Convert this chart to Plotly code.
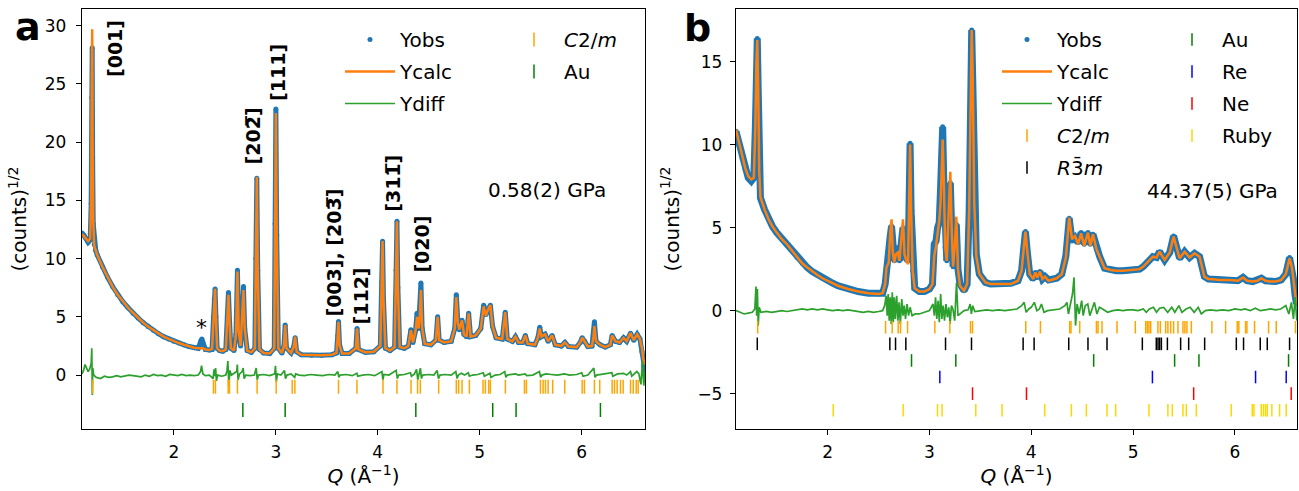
import plotly.graph_objects as go

# ---------------- Panel a data (0.58(2) GPa) ----------------
q_a = [1.100, 1.120, 1.140, 1.160, 1.180, 1.190, 1.196, 1.200, 1.204, 1.210, 1.220, 1.235, 1.250,
       1.300, 1.350, 1.400, 1.450, 1.500, 1.550, 1.600, 1.650, 1.700, 1.750, 1.800, 1.850, 1.900,
       1.950, 2.000, 2.050, 2.100, 2.150, 2.200, 2.240, 2.265, 2.275, 2.285, 2.310, 2.350, 2.375,
       2.390, 2.397, 2.405, 2.413, 2.425, 2.450, 2.480, 2.510, 2.525, 2.536, 2.547, 2.560, 2.590,
       2.610, 2.624, 2.636, 2.655, 2.672, 2.683, 2.695, 2.720, 2.760, 2.795, 2.805, 2.814, 2.823,
       2.840, 2.880, 2.940, 2.985, 2.993, 3.001, 3.009, 3.025, 3.060, 3.080, 3.092, 3.105, 3.150,
       3.175, 3.190, 3.205, 3.250, 3.350, 3.450, 3.550, 3.595, 3.608, 3.615, 3.625, 3.650, 3.720,
       3.785, 3.797, 3.810, 3.880, 3.960, 4.025, 4.040, 4.047, 4.056, 4.075, 4.120, 4.165, 4.180,
       4.188, 4.197, 4.215, 4.260, 4.300, 4.325, 4.345, 4.370, 4.385, 4.400, 4.412, 4.423, 4.435,
       4.460, 4.520, 4.570, 4.587, 4.602, 4.650, 4.720, 4.755, 4.770, 4.785, 4.800, 4.826, 4.845,
       4.870, 4.891, 4.910, 4.960, 5.010, 5.038, 5.060, 5.080, 5.104, 5.125, 5.160, 5.220, 5.250,
       5.270, 5.320, 5.350, 5.380, 5.420, 5.447, 5.470, 5.540, 5.570, 5.588, 5.605, 5.640, 5.670,
       5.709, 5.740, 5.800, 5.835, 5.870, 5.950, 5.985, 6.004, 6.030, 6.060, 6.100, 6.115, 6.124,
       6.140, 6.180, 6.230, 6.280, 6.298, 6.330, 6.370, 6.410, 6.440, 6.478, 6.510, 6.543, 6.570,
       6.590, 6.605, 6.620]
yobs_a = [12.2, 12.0, 11.7, 11.4, 11.6, 14.7, 23.8, 28.1, 18.7, 13.0, 11.2, 10.7, 10.3,
          9.3, 8.4, 7.6, 6.9, 6.3, 5.8, 5.3, 4.9, 4.5, 4.15, 3.85, 3.55, 3.3,
          3.1, 2.9, 2.75, 2.6, 2.45, 2.35, 2.3, 2.9, 3.1, 2.8, 2.2, 2.15, 2.2,
          5.0, 6.5, 7.4, 5.0, 2.3, 2.1, 2.05, 2.2, 5.0, 7.1, 4.5, 2.3, 2.1,
          3.5, 9.0, 3.8, 2.5, 5.5, 7.6, 4.0, 2.1, 1.95, 2.3, 10.0, 16.9, 9.0,
          2.2, 1.9, 1.85, 2.3, 13.0, 22.85, 12.0, 2.3, 1.9, 2.5, 4.3, 2.3, 1.9,
          2.4, 3.2, 2.0, 1.75, 1.7, 1.7, 1.75, 1.9, 3.4, 4.6, 2.6, 1.85, 1.85,
          2.3, 4.0, 2.2, 1.95, 2.0, 2.5, 8.0, 11.5, 6.5, 2.3, 2.1, 2.4, 9.0,
          13.2, 7.5, 2.4, 2.3, 2.5, 3.9, 2.8, 3.8, 5.3, 4.0, 5.5, 7.9, 4.0,
          2.7, 2.6, 3.0, 5.0, 3.0, 2.8, 2.9, 4.0, 6.9, 4.6, 3.9, 4.7, 3.5,
          3.3, 5.3, 3.3, 3.4, 4.0, 6.0, 5.2, 5.7, 6.0, 4.2, 3.2, 3.1, 5.4,
          3.1, 2.9, 3.3, 2.8, 2.8, 3.4, 2.7, 2.6, 3.2, 4.1, 3.3, 3.5, 2.9,
          3.4, 2.6, 2.5, 2.8, 2.45, 2.4, 2.8, 3.2, 2.9, 2.45, 2.5, 3.5, 4.57,
          2.9, 2.6, 2.4, 2.6, 3.4, 2.9, 2.8, 3.2, 2.9, 3.6, 3.0, 3.5, 3.1,
          2.0, 0.8, 0.4]
ycalc_a = [12.1, 11.9, 11.7, 11.5, 11.7, 15.0, 25.0, 29.7, 20.0, 13.2, 11.1, 10.7, 10.3,
           9.3, 8.4, 7.6, 6.9, 6.3, 5.8, 5.35, 4.9, 4.5, 4.15, 3.85, 3.55, 3.3,
           3.1, 2.9, 2.75, 2.6, 2.45, 2.35, 2.3, 2.3, 2.3, 2.3, 2.2, 2.15, 2.25,
           5.2, 6.8, 7.4, 5.0, 2.3, 2.1, 2.05, 2.2, 4.8, 6.9, 4.5, 2.3, 2.1,
           3.5, 8.9, 3.8, 2.5, 5.5, 7.3, 4.0, 2.1, 1.95, 2.3, 10.3, 17.0, 9.0,
           2.2, 1.9, 1.85, 2.3, 13.5, 22.5, 12.0, 2.3, 1.9, 2.5, 4.3, 2.3, 1.9,
           2.4, 3.3, 2.0, 1.75, 1.7, 1.7, 1.75, 1.9, 3.5, 4.57, 2.6, 1.85, 1.85,
           2.3, 4.0, 2.2, 1.95, 2.0, 2.5, 8.0, 11.5, 6.5, 2.3, 2.1, 2.4, 9.5,
           13.2, 7.5, 2.4, 2.3, 2.5, 3.86, 2.8, 3.8, 5.0, 4.0, 5.0, 7.3, 4.0,
           2.7, 2.6, 3.0, 5.0, 3.0, 2.8, 2.9, 4.0, 6.7, 4.5, 3.9, 4.7, 3.5,
           3.3, 5.3, 3.3, 3.4, 4.0, 5.9, 5.1, 5.6, 6.0, 4.2, 3.2, 3.1, 5.4,
           3.1, 2.9, 3.3, 2.8, 2.8, 3.4, 2.7, 2.6, 3.2, 4.0, 3.3, 3.5, 2.9,
           3.4, 2.6, 2.5, 2.8, 2.45, 2.4, 2.8, 3.2, 2.9, 2.45, 2.5, 3.3, 4.2,
           2.9, 2.6, 2.4, 2.6, 3.4, 2.9, 2.8, 3.2, 2.9, 3.6, 3.0, 3.5, 3.1,
           2.3, 1.3, 0.9]
qd_a = [1.100, 1.115, 1.130, 1.145, 1.160, 1.175, 1.190, 1.196, 1.201, 1.206, 1.215, 1.240,
        1.280, 1.320, 1.360, 1.400, 1.440, 1.480, 1.520, 1.560, 1.600, 1.640, 1.680, 1.720,
        1.760, 1.800, 1.840, 1.880, 1.920, 1.960, 2.000, 2.040, 2.080, 2.120, 2.160, 2.200,
        2.240, 2.262, 2.272, 2.285, 2.310, 2.350, 2.385, 2.395, 2.403, 2.410, 2.418, 2.430,
        2.470, 2.510, 2.522, 2.530, 2.540, 2.550, 2.565, 2.600, 2.617, 2.623, 2.630, 2.645,
        2.670, 2.680, 2.690, 2.705, 2.750, 2.790, 2.808, 2.818, 2.830, 2.880, 2.940, 2.990,
        2.997, 3.005, 3.015, 3.050, 3.085, 3.095, 3.110, 3.150, 3.185, 3.195, 3.230, 3.280,
        3.340, 3.400, 3.460, 3.520, 3.580, 3.608, 3.618, 3.630, 3.690, 3.750, 3.795, 3.803,
        3.850, 3.910, 3.970, 4.040, 4.050, 4.060, 4.110, 4.180, 4.192, 4.205, 4.260, 4.320,
        4.330, 4.360, 4.380, 4.392, 4.405, 4.418, 4.428, 4.440, 4.500, 4.550, 4.582, 4.595,
        4.610, 4.660, 4.720, 4.765, 4.778, 4.790, 4.820, 4.850, 4.888, 4.898, 4.930, 4.980,
        5.035, 5.045, 5.100, 5.110, 5.150, 5.200, 5.245, 5.256, 5.270, 5.320, 5.350, 5.380,
        5.445, 5.460, 5.520, 5.585, 5.597, 5.610, 5.650, 5.700, 5.760, 5.830, 5.880, 5.950,
        6.000, 6.012, 6.060, 6.118, 6.130, 6.145, 6.200, 6.295, 6.305, 6.350, 6.410, 6.440,
        6.478, 6.490, 6.540, 6.560, 6.580, 6.595, 6.608, 6.620]
ydiff_a = [0.1, 0.4, 0.9, 0.5, 0.3, 0.5, 1.0, 2.3, -1.7, 0.6, 0.0, -0.2,
           -0.3, -0.1, -0.2, -0.15, -0.05, -0.15, -0.1, 0.0, -0.05, -0.1, -0.15, 0.0,
           -0.1, 0.05, -0.05, 0.0, -0.1, 0.05, 0.0, -0.05, 0.05, -0.05, 0.0, -0.05,
           0.0, 0.3, 0.8, 0.1, -0.05, 0.0, -0.3, 0.5, -0.1, 0.6, -0.5, 0.0,
           -0.1, 0.0, 0.4, 1.2, -0.9, 0.4, 0.0, 0.2, 0.3, 0.9, -0.4, 0.1,
           0.3, 0.6, -0.3, 0.0, -0.05, 0.0, 0.6, -0.4, 0.0, 0.05, -0.05, 0.1,
           0.8, -0.6, 0.1, 0.0, 0.4, -0.3, 0.0, 0.1, -0.2, 0.1, 0.0, -0.05,
           0.05, 0.0, -0.05, 0.05, 0.0, 0.3, -0.2, 0.0, 0.05, -0.05, 0.15, -0.1,
           0.0, 0.05, -0.05, 0.3, -0.4, 0.05, 0.0, 0.4, -0.3, 0.0, 0.05, 0.2,
           -0.1, 0.1, 0.5, -0.4, 0.2, 0.6, -0.3, 0.0, 0.05, 0.0, 0.4, -0.3,
           0.0, 0.05, 0.0, 0.3, -0.3, 0.0, 0.15, 0.0, 0.2, -0.1, 0.0, 0.05,
           0.2, -0.1, 0.15, -0.2, 0.0, 0.05, 0.3, -0.2, 0.0, 0.05, 0.1, 0.0,
           0.1, -0.05, 0.0, 0.3, -0.2, 0.0, 0.1, 0.05, 0.0, 0.1, 0.0, 0.05,
           0.2, -0.1, 0.0, 0.6, -0.2, 0.0, 0.05, 0.2, -0.1, 0.1, 0.15, 0.0,
           0.3, -0.1, 0.3, 0.1, -0.8, 1.2, -0.9, 0.3]

ticks_a = {
    "C2m": [1.205, 2.389, 2.408, 2.533, 2.546, 2.624, 2.817, 3.004, 3.161, 3.187, 3.615, 3.796,
            4.051, 4.188, 4.326, 4.390, 4.417, 4.597, 4.770, 4.793, 4.826, 4.898, 5.032, 5.055,
            5.088, 5.104, 5.251, 5.438, 5.457, 5.595, 5.621, 5.644, 5.670, 5.715, 5.833, 6.004,
            6.026, 6.124, 6.176, 6.298, 6.321, 6.347, 6.380, 6.406, 6.478, 6.505, 6.534, 6.553],
    "Au": [2.677, 3.092, 4.373, 5.127, 5.356, 6.183],
}
tick_row_a = {"C2m": -1.0, "Au": -3.0}

# ---------------- Panel b data (44.37(5) GPa) ----------------
q_b = [1.100, 1.130, 1.160, 1.190, 1.220, 1.250, 1.275, 1.290, 1.300, 1.309, 1.318, 1.328, 1.340,
       1.380, 1.420, 1.460, 1.500, 1.550, 1.600, 1.650, 1.700, 1.750, 1.800, 1.850, 1.900, 1.950,
       2.000, 2.050, 2.100, 2.200, 2.300, 2.400, 2.500, 2.540, 2.565, 2.578, 2.600, 2.615, 2.628,
       2.640, 2.655, 2.670, 2.690, 2.705, 2.725, 2.740, 2.755, 2.773, 2.790, 2.800, 2.810, 2.820,
       2.835, 2.855, 2.900, 2.950, 3.000, 3.030, 3.047, 3.065, 3.080, 3.096, 3.110, 3.120, 3.130,
       3.140, 3.155, 3.170, 3.190, 3.205, 3.218, 3.232, 3.250, 3.264, 3.280, 3.300, 3.340, 3.370,
       3.390, 3.403, 3.415, 3.425, 3.440, 3.460, 3.490, 3.550, 3.600, 3.700, 3.800, 3.870, 3.905,
       3.925, 3.943, 3.960, 3.985, 4.020, 4.040, 4.060, 4.085, 4.110, 4.135, 4.170, 4.250, 4.300,
       4.340, 4.373, 4.400, 4.430, 4.460, 4.490, 4.520, 4.557, 4.580, 4.606, 4.640, 4.672, 4.720,
       4.780, 4.836, 4.900, 4.960, 5.020, 5.065, 5.100, 5.130, 5.160, 5.195, 5.230, 5.260, 5.310,
       5.360, 5.398, 5.430, 5.457, 5.506, 5.555, 5.604, 5.653, 5.700, 5.740, 5.784, 5.850, 5.950,
       6.030, 6.080, 6.120, 6.176, 6.220, 6.260, 6.300, 6.340, 6.400, 6.455, 6.500, 6.537, 6.560,
       6.575, 6.590, 6.605]
yobs_b = [10.8, 10.0, 9.2, 8.5, 8.0, 7.8, 8.0, 11.0, 14.8, 16.4, 13.3, 8.5, 6.8,
          6.1, 5.5, 5.05, 4.7, 4.35, 4.0, 3.6, 3.2, 2.85, 2.6, 2.35, 2.15, 1.95,
          1.8, 1.65, 1.5, 1.3, 1.15, 1.05, 1.0, 1.05, 1.6, 2.6, 3.0, 4.5, 5.1,
          3.6, 3.0, 3.2, 3.8, 3.0, 4.0, 5.0, 3.3, 3.2, 3.0, 6.5, 10.08, 6.0,
          2.4, 1.35, 1.15, 1.15, 1.3, 1.6, 4.0, 4.2, 5.0, 5.3, 7.5, 9.5, 11.07,
          8.0, 3.8, 3.0, 6.5, 7.7, 5.0, 2.65, 3.5, 5.2, 2.5, 1.6, 1.2, 1.6,
          6.0, 13.4, 16.9, 14.0, 6.5, 3.4, 2.2, 1.7, 1.6, 1.6, 1.65, 1.8, 2.4,
          3.7, 4.76, 3.6, 2.2, 1.9, 2.3, 2.0, 2.35, 1.9, 2.05, 1.85, 1.95, 2.2,
          3.3, 5.57, 4.2, 4.4, 4.1, 4.7, 4.0, 4.7, 4.0, 4.6, 3.7, 3.25, 2.55,
          2.45, 2.4, 2.4, 2.45, 2.5, 2.5, 2.65, 2.85, 3.0, 3.25, 3.2, 3.55, 3.05,
          3.5, 4.5, 3.7, 3.15, 3.55, 3.2, 3.45, 3.25, 2.05, 1.9, 1.89, 1.85, 1.85,
          1.8, 2.0, 1.8, 1.75, 1.8, 1.95, 1.8, 1.75, 1.75, 1.85, 2.2, 3.2, 2.6,
          1.9, 1.0, 0.4]
ycalc_b = [10.9, 10.1, 9.3, 8.6, 8.1, 7.9, 8.0, 11.0, 14.9, 16.3, 13.3, 8.5, 6.85,
           6.1, 5.5, 5.05, 4.7, 4.3, 4.0, 3.6, 3.2, 2.85, 2.6, 2.35, 2.15, 1.95,
           1.8, 1.65, 1.5, 1.3, 1.15, 1.05, 1.0, 1.05, 1.6, 2.6, 2.9, 4.7, 5.5,
           3.5, 2.9, 3.4, 3.5, 3.0, 4.3, 5.5, 3.4, 3.0, 2.8, 6.8, 10.0, 6.0,
           2.4, 1.35, 1.15, 1.15, 1.3, 1.6, 3.3, 3.9, 4.5, 5.4, 6.6, 8.8, 10.3,
           8.0, 3.8, 3.0, 6.0, 8.37, 5.0, 2.65, 4.0, 5.66, 2.5, 1.5, 1.2, 1.6,
           6.0, 13.4, 16.9, 14.0, 6.5, 3.3, 2.2, 1.7, 1.6, 1.6, 1.6, 1.8, 2.4,
           3.7, 4.76, 3.6, 2.2, 1.9, 2.3, 2.0, 2.35, 1.9, 2.05, 1.8, 1.95, 2.2,
           3.2, 5.6, 4.3, 4.5, 4.0, 4.66, 3.9, 4.7, 3.9, 4.6, 3.7, 3.25, 2.55,
           2.45, 2.4, 2.4, 2.45, 2.5, 2.5, 2.65, 2.85, 3.0, 3.25, 3.2, 3.55, 3.05,
           3.5, 4.46, 3.7, 3.15, 3.55, 3.2, 3.45, 3.25, 2.05, 1.9, 1.89, 1.85, 1.85,
           1.8, 2.0, 1.8, 1.75, 1.8, 1.95, 1.8, 1.75, 1.75, 1.85, 2.2, 3.15, 2.6,
           1.9, 1.0, 0.3]
qd_b = [1.100, 1.140, 1.180, 1.220, 1.260, 1.285, 1.296, 1.303, 1.310, 1.318, 1.328, 1.345,
        1.400, 1.450, 1.500, 1.550, 1.600, 1.650, 1.700, 1.750, 1.800, 1.850, 1.900, 1.950,
        2.000, 2.050, 2.100, 2.150, 2.200, 2.250, 2.300, 2.350, 2.400, 2.450, 2.500, 2.540,
        2.560, 2.575, 2.585, 2.595, 2.605, 2.615, 2.625, 2.635, 2.645, 2.655, 2.665, 2.678,
        2.690, 2.702, 2.714, 2.728, 2.740, 2.752, 2.765, 2.780, 2.795, 2.810, 2.830, 2.860,
        2.900, 2.950, 3.000, 3.035, 3.048, 3.060, 3.072, 3.085, 3.097, 3.110, 3.122, 3.135,
        3.148, 3.162, 3.176, 3.190, 3.203, 3.216, 3.230, 3.248, 3.266, 3.280, 3.300, 3.340,
        3.380, 3.400, 3.412, 3.425, 3.445, 3.500, 3.560, 3.620, 3.680, 3.740, 3.800, 3.860,
        3.905, 3.930, 3.950, 3.975, 4.000, 4.030, 4.055, 4.080, 4.100, 4.125, 4.160, 4.220,
        4.280, 4.330, 4.350, 4.365, 4.390, 4.405, 4.420, 4.435, 4.450, 4.470, 4.495, 4.510,
        4.530, 4.555, 4.575, 4.600, 4.620, 4.645, 4.670, 4.700, 4.750, 4.800, 4.850, 4.900,
        4.950, 5.000, 5.050, 5.100, 5.130, 5.160, 5.200, 5.230, 5.260, 5.300, 5.340, 5.380,
        5.410, 5.450, 5.480, 5.520, 5.560, 5.600, 5.640, 5.670, 5.710, 5.760, 5.820, 5.880,
        5.940, 6.000, 6.060, 6.100, 6.150, 6.200, 6.250, 6.300, 6.350, 6.400, 6.450, 6.500,
        6.530, 6.555, 6.575, 6.592, 6.608]
ydiff_b = [0.0, -0.1, -0.2, -0.15, -0.1, 0.1, 1.45, -0.3, 1.3, -0.9, 0.2, -0.1,
           -0.05, -0.1, -0.05, 0.0, -0.05, 0.0, 0.05, 0.1, 0.05, 0.1, 0.05, 0.1,
           0.05, 0.0, 0.05, 0.0, 0.05, 0.0, -0.05, -0.1, -0.05, -0.1, -0.05, 0.0,
           0.3, 0.9, -0.3, 1.0, -0.6, 0.8, -0.8, 1.1, -0.7, 0.8, -0.5, 0.9,
           -0.6, 0.5, -0.8, 0.7, -0.3, 0.3, -0.5, 0.4, -0.3, 0.2, -0.3, -0.2,
           -0.2, -0.1, 0.0, 0.4, -0.3, 0.8, -0.5, 0.6, -0.7, 1.0, -0.5, 0.3,
           -0.6, 0.4, -0.4, 0.2, -0.8, 0.3, 0.1, -0.6, 1.7, -0.3, -0.2, 0.0,
           0.05, 0.4, -0.2, 0.3, -0.05, 0.0, 0.05, 0.0, 0.05, 0.0, 0.05, 0.1,
           0.3, 0.5, -0.1, 0.1, 0.2, 0.5, 0.0, 0.1, 0.4, -0.1, 0.0, 0.05,
           0.1, 0.3, 0.5, -0.2, 0.6, 1.0, 2.0, -0.9, 0.4, -0.2, 0.6, -0.3,
           0.3, 0.4, -0.3, 0.2, 0.5, -0.2, 0.2, 0.1, -0.1, 0.0, 0.05, 0.0,
           0.05, 0.05, 0.0, 0.1, -0.1, 0.1, 0.2, -0.1, 0.15, 0.2, -0.1, 0.2,
           -0.1, 0.3, -0.1, 0.1, 0.2, -0.1, 0.2, -0.2, 0.0, 0.05, 0.0, 0.05,
           0.0, 0.1, 0.05, 0.1, 0.0, 0.15, 0.0, 0.05, 0.1, 0.05, 0.1, 0.3,
           -0.2, 0.5, -0.5, 0.8, -0.6]

ticks_b = {
    "C2m": [1.313, 2.569, 2.634, 2.693, 2.716, 2.785, 3.053, 3.200, 3.403, 3.423, 3.946, 4.090,
            4.378, 4.390, 4.476, 4.640, 4.656, 4.695, 4.842, 5.022, 5.124, 5.140, 5.156, 5.173,
            5.244, 5.268, 5.320, 5.342, 5.369, 5.398, 5.441, 5.490, 5.509, 5.529, 5.572, 5.774,
            5.909, 6.023, 6.039, 6.105, 6.118, 6.193, 6.331, 6.406, 6.595],
    "R3m": [1.309, 2.611, 2.667, 2.768, 3.158, 3.413, 3.920, 4.028, 4.368, 4.557, 4.744, 5.091,
            5.228, 5.245, 5.261, 5.278, 5.337, 5.467, 5.546, 5.703, 6.014, 6.085, 6.249, 6.318,
            6.537],
    "Au": [2.824, 3.259, 4.613, 5.408, 5.647, 6.527],
    "Re": [3.102, 5.190, 6.203, 6.504],
    "Ne": [3.423, 3.953, 5.595, 6.553],
    "Ruby": [2.055, 2.742, 3.079, 3.124, 3.455, 3.713, 4.132, 4.394, 4.541, 4.744, 4.829, 5.156,
             5.342, 5.385, 5.490, 5.523, 5.621, 5.964, 6.171, 6.187, 6.259, 6.281, 6.301, 6.318,
             6.363, 6.439, 6.504],
}
tick_row_b = {"C2m": -1.0, "R3m": -2.0, "Au": -3.0, "Re": -4.0, "Ne": -5.0, "Ruby": -6.0}

BAR = "\u0305"
phase_names = {"C2m": "<i>C</i>2/<i>m</i>", "R3m": "<i>R</i>3\u0304<i>m</i>", "Au": "Au",
               "Re": "Re", "Ne": "Ne", "Ruby": "Ruby"}
phase_colors = {"C2m": "#FFA500", "R3m": "#000000", "Au": "#008000", "Re": "#0000FF",
                "Ne": "#FF0000", "Ruby": "#FFD700"}

BLUE, ORANGE, GREEN = "#1f77b4", "#ff7f0e", "#2ca02c"

fig = go.Figure()


def add_panel(xa, ya, q, yobs, ycalc, qd, ydiff, ticks, rows, leg_left, leg_right, right_keys,
              band_w, tick_size):
    fig.add_trace(go.Scatter(x=q, y=yobs, mode="lines", line=dict(color=BLUE, width=band_w),
                             xaxis=xa, yaxis=ya, showlegend=False, hoverinfo="skip"))
    fig.add_trace(go.Scatter(x=q, y=yobs, mode="markers", name="Yobs",
                             marker=dict(color=BLUE, size=5), xaxis=xa, yaxis=ya,
                             legend=leg_left, legendgroup=leg_left + "obs"))
    fig.add_trace(go.Scatter(x=q, y=ycalc, mode="lines", name="Ycalc",
                             line=dict(color=ORANGE, width=2.5), xaxis=xa, yaxis=ya,
                             legend=leg_left, legendgroup=leg_left + "calc"))
    fig.add_trace(go.Scatter(x=qd, y=ydiff, mode="lines", name="Ydiff",
                             line=dict(color=GREEN, width=1.7), xaxis=xa, yaxis=ya,
                             legend=leg_left, legendgroup=leg_left + "diff"))
    for key, pos in ticks.items():
        lg = leg_right if key in right_keys else leg_left
        fig.add_trace(go.Scatter(
            x=pos, y=[rows[key]] * len(pos), mode="markers", name=phase_names[key],
            marker=dict(symbol="line-ns", size=tick_size,
                        line=dict(color=phase_colors[key], width=1.5)),
            xaxis=xa, yaxis=ya, legend=lg, legendgroup=lg + key))


add_panel("x", "y", q_a, yobs_a, ycalc_a, qd_a, ydiff_a, ticks_a, tick_row_a,
          "legend", "legend2", ["C2m", "Au"], 5, 10)
add_panel("x2", "y2", q_b, yobs_b, ycalc_b, qd_b, ydiff_b, ticks_b, tick_row_b,
          "legend3", "legend4", ["Au", "Re", "Ne", "Ruby"], 7, 9)

FONT = "DejaVu Sans"
W, H = 1299, 491
TOP, BOT = 9, 429


def px_x(p):
    return p / W


def px_y(p):
    return (BOT - p) / (BOT - TOP)


axis_common = dict(showline=True, linecolor="black", linewidth=1.3, mirror=True,
                   ticks="outside", ticklen=5, tickwidth=1.3, tickcolor="black",
                   showgrid=False, zeroline=False, tickfont=dict(size=17, color="black"))

legend_common = dict(font=dict(size=20, color="black", family=FONT), bgcolor="rgba(0,0,0,0)",
                     borderwidth=0, itemwidth=50, tracegroupgap=3, yanchor="top",
                     xanchor="left", itemclick=False, itemdoubleclick=False)

fig.update_layout(
    width=W, height=H,
    margin=dict(l=0, r=0, t=TOP, b=H - BOT, pad=0),
    plot_bgcolor="white", paper_bgcolor="white",
    font=dict(family=FONT, color="black", size=17),
    xaxis=dict(domain=[px_x(82), px_x(645)], range=[1.1, 6.62], tickvals=[2, 3, 4, 5, 6],
               anchor="y", ticklabelstandoff=2,
               title=dict(text="<i>Q</i> (Å<sup>−1</sup>)", font=dict(size=20), standoff=8),
               **axis_common),
    yaxis=dict(domain=[0, 1], range=[-4.63, 31.43], tickvals=[0, 5, 10, 15, 20, 25, 30],
               anchor="x", ticklabelstandoff=6,
               title=dict(text="(counts)<sup>1/2</sup>", font=dict(size=20), standoff=12),
               **axis_common),
    xaxis2=dict(domain=[px_x(736), px_x(1297)], range=[1.1, 6.61], tickvals=[2, 3, 4, 5, 6],
                anchor="y2", ticklabelstandoff=2,
                title=dict(text="<i>Q</i> (Å<sup>−1</sup>)", font=dict(size=20), standoff=8),
                **axis_common),
    yaxis2=dict(domain=[0, 1], range=[-7.13, 18.17], tickvals=[-5, 0, 5, 10, 15],
                anchor="x2", ticklabelstandoff=4,
                title=dict(text="(counts)<sup>1/2</sup>", font=dict(size=20), standoff=12),
                **axis_common),
    legend=dict(x=px_x(340), y=px_y(20), **legend_common),
    legend2=dict(x=px_x(504), y=px_y(20), **legend_common),
    legend3=dict(x=px_x(997), y=px_y(20), **legend_common),
    legend4=dict(x=px_x(1162), y=px_y(20), **legend_common),
)

ann = []
labels_a = [("[001]", 1.424, 28.0), ("[20" + "2" + BAR + "]", 2.778, 20.5),
            ("[111]", 3.014, 25.96), ("[003], [20" + "3" + BAR + "]", 3.573, 10.54),
            ("[112]", 3.838, 6.77), ("[31" + "1" + BAR + "]", 4.152, 16.45),
            ("[020]", 4.437, 11.23)]
for txt, x, y in labels_a:
    ann.append(dict(text="<b>" + txt + "</b>", x=x, y=y, xref="x", yref="y", textangle=-90,
                    xanchor="center", yanchor="middle", showarrow=False,
                    font=dict(size=19, color="black", family=FONT)))
ann.append(dict(text="*", x=2.268, y=4.1, xref="x", yref="y", showarrow=False,
                font=dict(size=22, color="black")))
ann.append(dict(text="0.58(2) GPa", x=5.663, y=15.85, xref="x", yref="y", showarrow=False,
                font=dict(size=20, color="black")))
ann.append(dict(text="44.37(5) GPa", x=5.78, y=7.21, xref="x2", yref="y2", showarrow=False,
                font=dict(size=20, color="black")))
ann.append(dict(text="<b>a</b>", x=px_x(27.5), y=px_y(26.7), xref="paper", yref="paper",
                xanchor="center", yanchor="middle", showarrow=False,
                font=dict(size=38, color="black")))
ann.append(dict(text="<b>b</b>", x=px_x(697.5), y=px_y(28.4), xref="paper", yref="paper",
                xanchor="center", yanchor="middle", showarrow=False,
                font=dict(size=38, color="black")))
fig.update_layout(annotations=ann)

fig.write_html("out.html",
               config={"displayModeBar": False},
               post_script="document.body.style.margin='0px';"
                           "document.body.style.overflow='hidden';")
